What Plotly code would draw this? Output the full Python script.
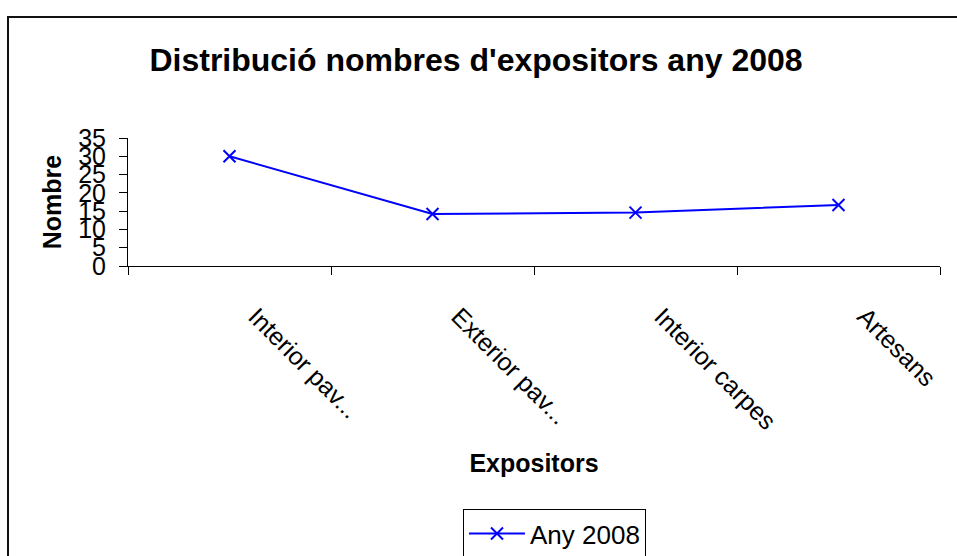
import plotly.graph_objects as go

categories = ["Interior pav...", "Exterior pav...", "Interior carpes", "Artesans"]
values_2008 = [30, 14.2, 14.6, 16.7]
series_name = "Any 2008"
y_ticks = [0, 5, 10, 15, 20, 25, 30, 35]

W, H = 957, 556
# plot area in page pixels
L, R = 128, 940
T, B = 137.5, 266
pw, ph = R - L, B - T

def px_to_paper_x(px):
    return (px - L) / pw

def px_to_paper_y(py):
    return (B - py) / ph

FONT = "Liberation Sans, Arial, sans-serif"

fig = go.Figure()
fig.add_trace(go.Scatter(
    x=categories, y=values_2008, name=series_name,
    mode="lines+markers",
    line=dict(color="#0000FF", width=2),
    marker=dict(symbol="x-thin", size=12, color="#0000FF",
                line=dict(color="#0000FF", width=2)),
))

fig.update_layout(
    width=W, height=H,
    margin=dict(l=L, r=W - R, t=T, b=H - B, autoexpand=False),
    paper_bgcolor="white", plot_bgcolor="white",
    font=dict(family=FONT, color="black", size=25),
    title=dict(text="<b>Distribució nombres d'expositors any 2008</b>",
               font=dict(family=FONT, size=32, color="black"),
               x=476 / W, xanchor="center", xref="container",
               y=1 - 60 / H, yanchor="middle", yref="container"),
    showlegend=True,
    legend=dict(x=px_to_paper_x(463), y=px_to_paper_y(510),
                xanchor="left", yanchor="top",
                bordercolor="black", borderwidth=1, bgcolor="white",
                itemwidth=56,
                font=dict(family=FONT, size=26, color="black")),
)

fig.update_xaxes(
    type="category", range=[-0.5, len(categories) - 0.5],
    showline=True, linecolor="black", linewidth=1,
    ticks="outside", ticklen=8, tickcolor="black", tickson="boundaries",
    tickangle=45, ticklabelstandoff=25, ticklabelshift=26,
    tickfont=dict(family=FONT, size=25, color="black"),
    showgrid=False, zeroline=False,
    title=dict(text="<b>Expositors</b>", font=dict(family=FONT, size=25, color="black"),
               standoff=20),
)
fig.update_yaxes(
    range=[0, 35], tickvals=y_ticks, ticktext=[str(v) for v in y_ticks],
    showline=True, linecolor="black", linewidth=1,
    ticks="outside", ticklen=8, tickcolor="black",
    ticklabelstandoff=8,
    tickfont=dict(family=FONT, size=25, color="black"),
    showgrid=False, zeroline=False,
    title=dict(text="<b>Nombre</b>", font=dict(family=FONT, size=25, color="black"),
               standoff=9),
)

# outer chart border (continues past the right and bottom edges)
fig.add_shape(type="rect", xref="paper", yref="paper",
              x0=px_to_paper_x(8), x1=px_to_paper_x(990),
              y0=px_to_paper_y(16), y1=px_to_paper_y(590),
              line=dict(color="#111111", width=2), fillcolor="rgba(0,0,0,0)",
              layer="below")

fig.write_html(
    "out.html",
    config={"displayModeBar": False},
    post_script="document.body.style.margin='0';document.body.style.overflow='hidden';",
)
